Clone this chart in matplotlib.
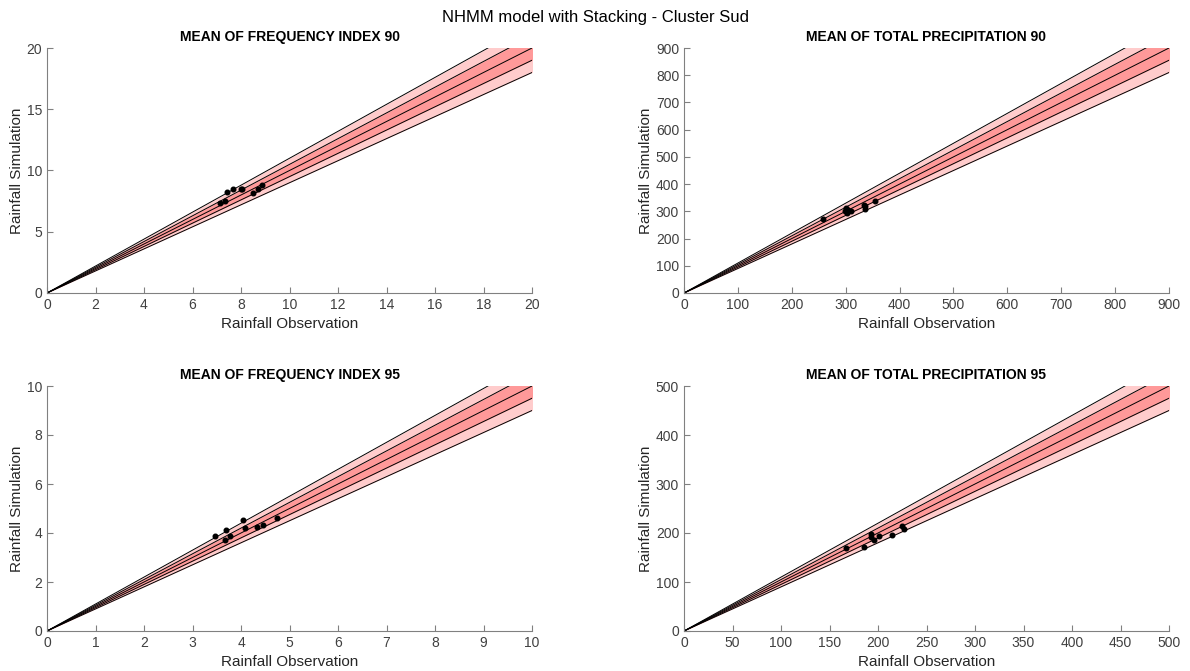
import matplotlib.pyplot as plt
import numpy as np

plt.rcParams['font.family'] = ['Liberation Sans', 'DejaVu Sans']

titles = ['MEAN OF FREQUENCY INDEX 90', 'MEAN OF TOTAL PRECIPITATION 90',
          'MEAN OF FREQUENCY INDEX 95', 'MEAN OF TOTAL PRECIPITATION 95']
limits = [20, 900, 10, 500]
xticks_step = [2, 100, 1, 50]
yticks_step = [5, 100, 2, 100]

# observed / simulated means per station
obs_fi90 = [7.13, 7.34, 7.41, 7.66, 7.99, 8.05, 8.51, 8.69, 8.87]
sim_fi90 = [7.32, 7.51, 8.22, 8.51, 8.51, 8.46, 8.18, 8.49, 8.79]
obs_tp90 = [258, 298, 300, 302, 305, 310, 334, 335, 336, 355]
sim_tp90 = [272, 300, 312, 293, 305, 300, 325, 318, 310, 338]
obs_fi95 = [3.46, 3.66, 3.70, 3.77, 4.05, 4.08, 4.32, 4.46, 4.74]
sim_fi95 = [3.89, 3.70, 4.13, 3.89, 4.52, 4.20, 4.23, 4.33, 4.62]
obs_tp95 = [166.7, 185.9, 192.4, 193.1, 195.9, 201.0, 214.4, 225.0, 226.5]
sim_tp95 = [168.7, 172.0, 197.3, 192.5, 185.7, 193.9, 195.9, 214.9, 208.2]

obs_all = [obs_fi90, obs_tp90, obs_fi95, obs_tp95]
sim_all = [sim_fi90, sim_tp90, sim_fi95, sim_tp95]

fig = plt.figure(figsize=(11.9, 6.71), dpi=100)
fig.suptitle('NHMM model with Stacking - Cluster Sud', fontsize=12, y=0.985)

pos = [[47, 48], [684, 48], [47, 386], [684, 386]]
W, H = 1190.0, 671.0
axes_w, axes_h = 485, 245

for i in range(4):
    left, top = pos[i]
    ax = fig.add_axes([left / W, 1 - (top + axes_h) / H, axes_w / W, axes_h / H])
    lim = limits[i]
    x = np.linspace(0, lim * 1.2, 50)
    ax.fill_between(x, 0.9 * x, 1.1 * x, color='#ffcccc', lw=0)
    ax.fill_between(x, 0.95 * x, 1.05 * x, color='#ff9999', lw=0)
    for f in [0.9, 0.95, 1.0, 1.05, 1.1]:
        ax.plot(x, f * x, color='k', lw=0.7)
    ax.plot(obs_all[i], sim_all[i], 'o', color='k', ms=3.3)
    ax.set_xlim(0, lim)
    ax.set_ylim(0, lim)
    ax.set_xticks(np.arange(0, lim + 1e-9, xticks_step[i]))
    ax.set_yticks(np.arange(0, lim + 1e-9, yticks_step[i]))
    ax.spines['top'].set_visible(False)
    ax.spines['right'].set_visible(False)
    for s in ['left', 'bottom']:
        ax.spines[s].set_color('#808080')
    ax.tick_params(direction='in', colors='#808080', labelcolor='#404040',
                   labelsize=10, length=4)
    ax.set_title(titles[i], fontsize=10, fontweight='bold', pad=5)
    ax.set_xlabel('Rainfall Observation', fontsize=11, color='#262626', labelpad=4)
    ax.set_ylabel('Rainfall Simulation', fontsize=11, color='#262626', labelpad=2)

fig.savefig('out.png', dpi=100)
